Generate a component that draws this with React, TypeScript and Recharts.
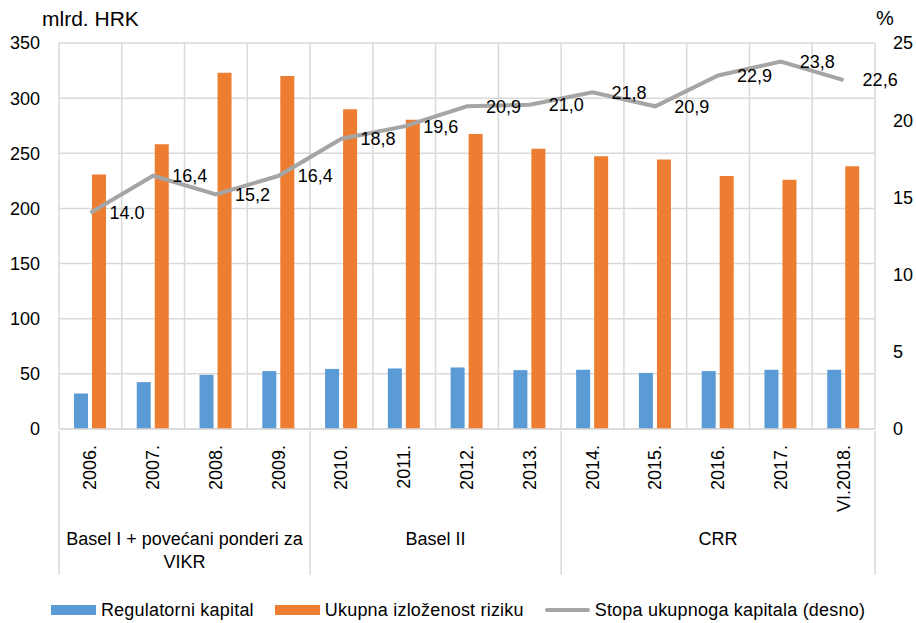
import { ComposedChart, Bar, Line, XAxis, YAxis, CartesianGrid, LabelList } from 'recharts';

const years = ['2006.', '2007.', '2008.', '2009.', '2010.', '2011.', '2012.', '2013.', '2014.', '2015.', '2016.', '2017.', 'VI.2018.'];
const regulatoryCapital = [32.2, 42.5, 49.1, 52.5, 54.5, 54.9, 55.8, 53.4, 53.7, 50.9, 52.5, 53.7, 53.7];
const riskExposure = [230.7, 258.1, 323.1, 320.0, 289.9, 280.5, 267.5, 254.2, 247.3, 244.3, 229.4, 226.1, 238.2];
const capitalRatio = [14.0, 16.4, 15.2, 16.4, 18.8, 19.6, 20.9, 21.0, 21.8, 20.9, 22.9, 23.8, 22.6];
const ratioLabels = ['14.0', '16,4', '15,2', '16,4', '18,8', '19,6', '20,9', '21,0', '21,8', '20,9', '22,9', '23,8', '22,6'];
const leftTicks = [0, 50, 100, 150, 200, 250, 300, 350];
const rightTicks = [0, 5, 10, 15, 20, 25];
const groupNames = [['Basel I + povećani ponderi za', 'VIKR'], ['Basel II'], ['CRR']];
const groupStarts = [0, 4, 8];

const W = 916;
const H = 623;
const LEFT_W = 59;
const RIGHT_W = 41;
const X_AXIS_H = 144;
const FONT = '"Liberation Sans", Arial, sans-serif';
const GRID = '#d9d9d9';

const data = years.map((year, i) => ({
  year,
  reg: regulatoryCapital[i],
  rwa: riskExposure[i],
  ratio: capitalRatio[i],
  ratioLabel: ratioLabels[i],
}));

const band = (W - LEFT_W - RIGHT_W) / years.length;

function YearTick(props: any) {
  const { x, y, payload } = props;
  const i = payload.index;
  const g = groupStarts.indexOf(i);
  const isLast = i === years.length - 1;
  let label = null;
  if (g >= 0) {
    const end = g + 1 < groupStarts.length ? groupStarts[g + 1] : years.length;
    const cx = x - band / 2 + ((end - i) * band) / 2;
    label = (
      <g>
        <line x1={x - band / 2} x2={x - band / 2} y1={y} y2={y + X_AXIS_H} stroke={GRID} strokeWidth={1.5} />
        {groupNames[g].map((t, k) => (
          <text key={k} x={cx} y={y + 108 + k * 23} textAnchor="middle" dominantBaseline="central"
            fontSize={18} fill="#000" fontFamily={FONT}>{t}</text>
        ))}
      </g>
    );
  }
  return (
    <g>
      {label}
      {isLast && <line x1={x + band / 2} x2={x + band / 2} y1={y} y2={y + X_AXIS_H} stroke={GRID} strokeWidth={1.5} />}
      <text x={x} y={y + 14} transform={`rotate(-90 ${x} ${y + 14})`} textAnchor="end" dominantBaseline="central"
        fontSize={18} fill="#000" fontFamily={FONT}>{payload.value}</text>
    </g>
  );
}

function LegendRow() {
  const items = [
    { name: 'Regulatorni kapital', color: '#5b9bd5', line: false },
    { name: 'Ukupna izloženost riziku', color: '#ed7d31', line: false },
    { name: 'Stopa ukupnoga kapitala (desno)', color: '#a5a5a5', line: true },
  ];
  return (
    <div style={{ position: 'absolute', top: 597, left: 0, width: W, display: 'flex', justifyContent: 'center', gap: 21, fontFamily: FONT, fontSize: 18, letterSpacing: 0.2 }}>
      {items.map((it) => (
        <div key={it.name} style={{ display: 'flex', alignItems: 'center', gap: 5, height: 26 }}>
          <div style={{ width: 45, height: it.line ? 4 : 10, background: it.color, borderRadius: it.line ? 2 : 0 }} />
          <span>{it.name}</span>
        </div>
      ))}
    </div>
  );
}

export default function App() {
  return (
    <div style={{ position: 'relative', width: W, height: H, background: '#fff', fontFamily: FONT }}>
      <style>{'body{margin:0}'}</style>
      <div style={{ position: 'absolute', left: 42, top: 7, fontSize: 21 }}>mlrd. HRK</div>
      <div style={{ position: 'absolute', left: 876, top: 7, fontSize: 20 }}>%</div>
      <ComposedChart width={W} height={H} data={data} margin={{ top: 43, right: 0, left: 0, bottom: H - 43 - 386 - X_AXIS_H }}
        barSize={14} barGap={4}>
        <CartesianGrid yAxisId="left" stroke={GRID} strokeWidth={1.5}
          verticalCoordinatesGenerator={({ offset }: any) =>
            Array.from({ length: years.length + 1 }, (_, i) => offset.left + (i * offset.width) / years.length)} />
        <XAxis dataKey="year" interval={0} height={X_AXIS_H} tickSize={0} tickLine={false}
          axisLine={{ stroke: GRID, strokeWidth: 1.5 }} tick={<YearTick />} />
        <YAxis yAxisId="left" domain={[0, 350]} ticks={leftTicks} width={LEFT_W} axisLine={false} tickLine={false}
          tickSize={0} tickMargin={19} tick={{ fontSize: 18, fill: '#000', fontFamily: FONT }} />
        <YAxis yAxisId="right" orientation="right" domain={[0, 25]} ticks={rightTicks} width={RIGHT_W} axisLine={false}
          tickLine={false} tickSize={0} tickMargin={18} tick={{ fontSize: 18, fill: '#000', fontFamily: FONT }} />
        <Bar yAxisId="left" dataKey="reg" fill="#5b9bd5" isAnimationActive={false} />
        <Bar yAxisId="left" dataKey="rwa" fill="#ed7d31" isAnimationActive={false} />
        <Line yAxisId="right" dataKey="ratio" type="linear" stroke="#a5a5a5" strokeWidth={4} dot={false}
          isAnimationActive={false}>
          <LabelList dataKey="ratioLabel" position="right" offset={19} fontSize={18} fill="#000" fontFamily={FONT} />
        </Line>
      </ComposedChart>
      <LegendRow />
    </div>
  );
}
